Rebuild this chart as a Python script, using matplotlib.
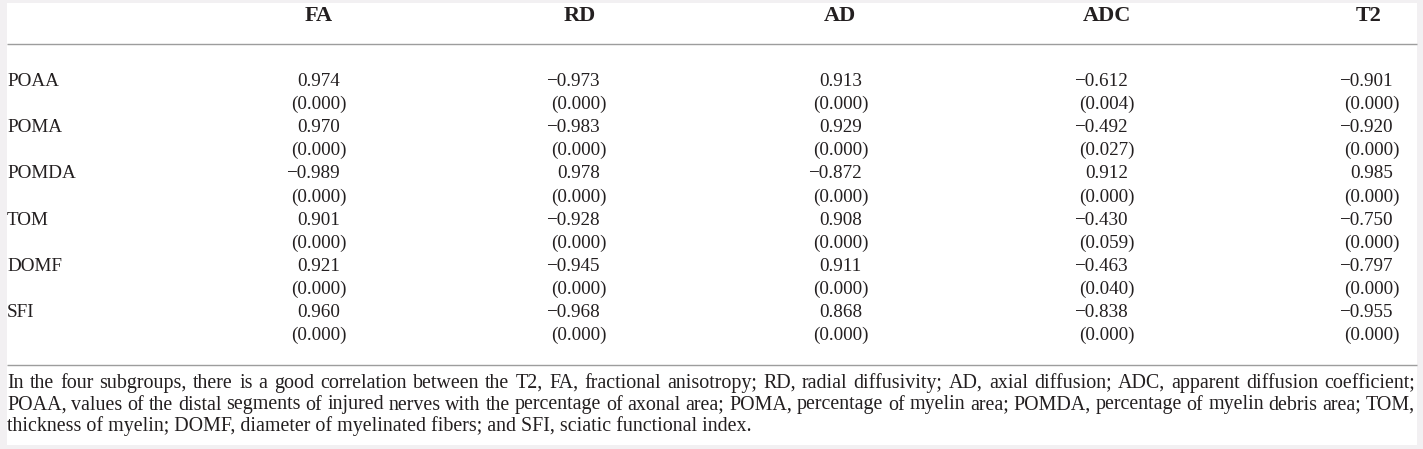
import matplotlib
matplotlib.use("Agg")
import matplotlib.pyplot as plt
from matplotlib.patches import Rectangle

# table content
columns = ["FA", "RD", "AD", "ADC", "T2"]
rows = ["POAA", "POMA", "POMDA", "TOM", "DOMF", "SFI"]

fa = [0.974, 0.970, -0.989, 0.901, 0.921, 0.960]
rd = [-0.973, -0.983, 0.978, -0.928, -0.945, -0.968]
ad = [0.913, 0.929, -0.872, 0.908, 0.911, 0.868]
adc = [-0.612, -0.492, 0.912, -0.430, -0.463, -0.838]
t2 = [-0.901, -0.920, 0.985, -0.750, -0.797, -0.955]

p_fa = [0.000, 0.000, 0.000, 0.000, 0.000, 0.000]
p_rd = [0.000, 0.000, 0.000, 0.000, 0.000, 0.000]
p_ad = [0.000, 0.000, 0.000, 0.000, 0.000, 0.000]
p_adc = [0.004, 0.027, 0.000, 0.059, 0.040, 0.000]
p_t2 = [0.000, 0.000, 0.000, 0.000, 0.000, 0.000]

caption = [
    "In the four subgroups, there is a good correlation between the T2, FA, fractional anisotropy; "
    "RD, radial diffusivity; AD, axial diffusion; ADC, apparent diffusion coefficient;",
    "POAA, values of the distal segments of injured nerves with the percentage of axonal area; "
    "POMA, percentage of myelin area; POMDA, percentage of myelin debris area; TOM,",
    "thickness of myelin; DOMF, diameter of myelinated fibers; and SFI, sciatic functional index.",
]


def fmt(v):
    s = "%.3f" % abs(v)
    return ("\u2212" + s) if v < 0 else s


def main():
    W, H = 1423, 449
    fig = plt.figure(figsize=(W / 100, H / 100), dpi=100)
    fig.patch.set_facecolor("#f2f0f2")
    ax = fig.add_axes([0, 0, 1, 1])
    ax.set_xlim(0, W)
    ax.set_ylim(H, 0)
    ax.axis("off")
    ax.patch.set_alpha(0)
    ax.add_patch(Rectangle((7, 3), 1410, 442, facecolor="white", edgecolor="none"))

    ink = "#231f20"
    rule = "#9d9d9d"
    serif = ["Liberation Serif", "DejaVu Serif"]
    body = 13.8

    # header
    head_x = [319, 580, 840, 1107, 1369]
    for name, x in zip(columns, head_x):
        ax.text(x, 21, name, ha="center", va="baseline", fontsize=16,
                fontweight="bold", family=serif, color=ink)
    ax.plot([7, 1417], [44, 44], color=rule, lw=1.0, solid_capstyle="butt")

    # body (baselines)
    vals = [fa, rd, ad, adc, t2]
    pvals = [p_fa, p_rd, p_ad, p_adc, p_t2]
    right_x = [340, 600, 862, 1128, 1393]
    y0, step = 86, 23.1
    for i, name in enumerate(rows):
        y = y0 + 2 * i * step
        ax.text(7, y, name, ha="left", va="baseline", fontsize=body,
                family=serif, color=ink)
        for j in range(len(columns)):
            ax.text(right_x[j], y, fmt(vals[j][i]), ha="right", va="baseline",
                    fontsize=body, family=serif, color=ink)
            ax.text(right_x[j] + 7, y + step, "(%.3f)" % pvals[j][i],
                    ha="right", va="baseline", fontsize=body, family=serif, color=ink)
    ax.plot([7, 1417], [365, 365], color=rule, lw=1.0, solid_capstyle="butt")

    # footnote: size from the longest line, first two lines justified
    fig.canvas.draw()
    r = fig.canvas.get_renderer()
    left, right = 7, 1415

    def width(s, fs):
        t = ax.text(0, 0, s, fontsize=fs, family=serif)
        w = t.get_window_extent(r).width
        t.remove()
        return w

    fs = 13
    fs = min(fs * (right - left) / width(caption[0], fs),
             fs * (right - left) / width(caption[1], fs))
    for k, line in enumerate(caption):
        y = 388 + k * 21.5
        if k == len(caption) - 1:
            ax.text(left, y, line, ha="left", va="baseline", fontsize=fs,
                    family=serif, color=ink)
            continue
        words = line.split(" ")
        ws = [width(wd, fs) for wd in words]
        gap = (right - left - sum(ws)) / (len(words) - 1)
        x = left
        for wd, wv in zip(words, ws):
            ax.text(x, y, wd, ha="left", va="baseline", fontsize=fs,
                    family=serif, color=ink)
            x += wv + gap

    fig.savefig("out.png", dpi=100, facecolor=fig.get_facecolor())


if __name__ == "__main__":
    main()
